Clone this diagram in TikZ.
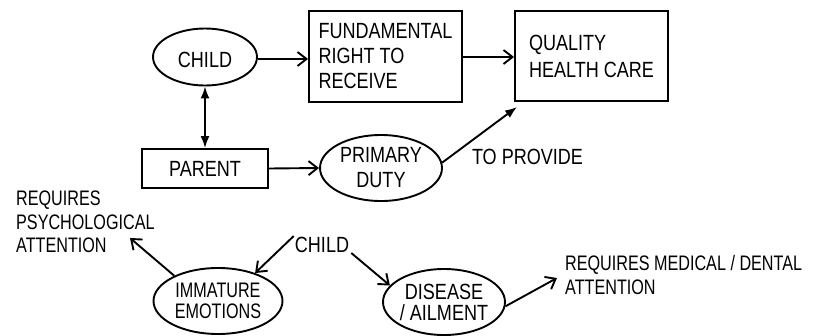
\documentclass[tikz,border=0pt]{standalone}
\usepackage{fontspec}
\setmainfont{Liberation Sans}[FakeStretch=0.82]
\newfontfamily\narrowsans{Liberation Sans}[FakeStretch=0.77]
\usetikzlibrary{arrows.meta,shapes.geometric}

\tikzset{
  txt/.style={font=\fontsize{22}{25}\selectfont, inner sep=0pt, align=left},
  narrowtxt/.style={font=\narrowsans\fontsize{21}{24}\selectfont, inner sep=0pt, align=left},
  boxnode/.style={draw, line width=1.9pt, rectangle, inner sep=0pt, txt},
  ovalnode/.style={draw, line width=1.9pt, ellipse, inner sep=0pt},
  openarrow/.style={line width=1.9pt, -{Straight Barb[length=9pt,width=14pt,line width=1.9pt]}},
  fullarrow/.style={line width=1.9pt, -{Latex[length=12pt,width=9pt]}},
  bothfull/.style={line width=1.9pt, {Latex[length=12pt,width=9pt]}-{Latex[length=12pt,width=9pt]}}
}

\begin{document}
\begin{tikzpicture}[x=1pt,y=-1pt]
  \useasboundingbox (0,0) rectangle (825,335);

  % top row
  \node[ovalnode, minimum width=104pt, minimum height=57pt,
        label={[txt, yshift=-3pt]center:CHILD}] (child) at (205,57) {};
  \node[boxnode, minimum width=153pt, minimum height=91pt] (fund) at (385.5,56.5)
        {FUNDAMENTAL\\RIGHT TO\\RECEIVE};
  \node[boxnode, minimum width=153pt, minimum height=90pt] (qual) at (591.5,56)
        {QUALITY\\[2pt]HEALTH CARE};

  % middle row
  \node[boxnode, minimum width=126pt, minimum height=39pt] (parent) at (205,168.5) {PARENT};
  \node[ovalnode, minimum width=122pt, minimum height=66pt,
        label={[txt, align=center]center:PRIMARY\\DUTY}] (duty) at (381,168) {};
  \node[txt] (provide) at (527.5,157) {TO PROVIDE};

  % bottom row
  \node[narrowtxt, anchor=west, font=\narrowsans\fontsize{21}{23.5}\selectfont] (psych) at (16,222) {REQUIRES\\PSYCHOLOGICAL\\ATTENTION};
  \node[txt] (child2) at (322,245) {CHILD};
  \node[ovalnode, minimum width=129pt, minimum height=66pt,
        label={[narrowtxt, align=center, font=\narrowsans\fontsize{21}{21}\selectfont]center:IMMATURE\\EMOTIONS}] (imm) at (218,301) {};
  \node[ovalnode, minimum width=122pt, minimum height=66pt,
        label={[txt, align=center, font=\fontsize{22}{21}\selectfont]center:DISEASE\\/ AILMENT}] (dis) at (444,302) {};
  \node[narrowtxt, anchor=west] (medical) at (565,275) {REQUIRES MEDICAL / DENTAL\\ATTENTION};

  \coordinate (psychtip) at (130,238);
  \coordinate (medtip) at (557,278);

  % connectors
  \draw[openarrow] (child.east |- 0,59) -- (fund.west |- 0,59);
  \draw[openarrow] (fund.east |- 0,57) -- (qual.west |- 0,57);
  \draw[bothfull] (child.south) -- (parent.north);
  \draw[openarrow] (parent.east) -- (duty.west);
  \draw[fullarrow] (duty.5) -- ([xshift=3pt,yshift=-5pt]qual.south west);
  \draw[openarrow] ([xshift=-1pt,yshift=1pt]child2.north west) -- (imm.37);
  \draw[openarrow] ([xshift=2pt]child2.south east) -- (dis.163);
  \draw[openarrow] (imm.150) -- (psychtip);
  \draw[openarrow] (dis.-4) -- (medtip);
\end{tikzpicture}
\end{document}
